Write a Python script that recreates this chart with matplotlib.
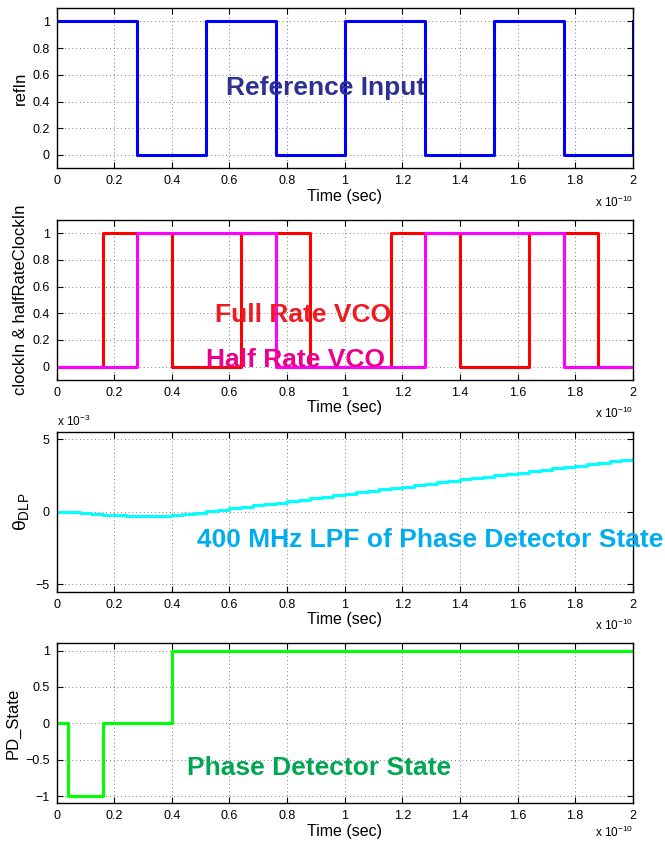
import matplotlib
matplotlib.use("Agg")
import matplotlib.pyplot as plt
from matplotlib.ticker import FixedLocator, FuncFormatter

plt.rcParams['font.family'] = ['Liberation Sans', 'DejaVu Sans']
plt.rcParams['mathtext.fontset'] = 'custom'
plt.rcParams['mathtext.rm'] = 'Liberation Sans'
plt.rcParams['mathtext.it'] = 'Liberation Sans'
plt.rcParams['mathtext.bf'] = 'Liberation Sans:bold'

# ---- data (time in units of 1e-10 s) ----
ref_t = [0, 0.28, 0.52, 0.76, 1.00, 1.28, 1.52, 1.76, 2.00]
ref_v = [1, 0, 1, 0, 1, 0, 1, 0, 1]

full_t = [0, 0.16, 0.40, 0.64, 0.88, 1.16, 1.40, 1.64, 1.88, 2.00]
full_v = [0, 1, 0, 1, 0, 1, 0, 1, 0, 0]

half_t = [0, 0.28, 0.76, 1.28, 1.76, 2.00]
half_v = [0, 1, 0, 1, 0, 0]

lpf_t = [0.00, 0.04, 0.08, 0.12, 0.16, 0.20, 0.24, 0.28, 0.32, 0.36,
         0.40, 0.44, 0.48, 0.52, 0.56, 0.60, 0.64, 0.68, 0.72, 0.76,
         0.80, 0.84, 0.88, 0.92, 0.96, 1.00, 1.04, 1.08, 1.12, 1.16,
         1.20, 1.24, 1.28, 1.32, 1.36, 1.40, 1.44, 1.48, 1.52, 1.56,
         1.60, 1.64, 1.68, 1.72, 1.76, 1.80, 1.84, 1.88, 1.92, 1.96, 2.00]
# units of 1e-3
lpf_v = [0.00, -0.01, -0.06, -0.13, -0.20, -0.24, -0.26, -0.27, -0.27, -0.26,
         -0.25, -0.16, -0.06, 0.04, 0.14, 0.24, 0.34, 0.44, 0.54, 0.64,
         0.74, 0.84, 0.94, 1.04, 1.14, 1.24, 1.34, 1.44, 1.54, 1.64,
         1.74, 1.84, 1.94, 2.04, 2.13, 2.23, 2.33, 2.42, 2.52, 2.62,
         2.71, 2.81, 2.90, 3.00, 3.09, 3.19, 3.28, 3.38, 3.47, 3.57, 3.66]

pd_t = [0, 0.04, 0.16, 0.40, 2.00]
pd_v = [0, -1, 0, 1, 1]

xticks = [0, 0.2, 0.4, 0.6, 0.8, 1.0, 1.2, 1.4, 1.6, 1.8, 2.0]
yticks_01 = [0, 0.2, 0.4, 0.6, 0.8, 1.0]
yticks_lpf = [-5, 0, 5]
yticks_pd = [-1, -0.5, 0, 0.5, 1]

W, H = 665, 842
fig = plt.figure(figsize=(W / 100, H / 100), dpi=100)

def ax_at(top_px, bot_px, left_px=56.7, right_px=632.7):
    return fig.add_axes([left_px / W, 1 - bot_px / H,
                         (right_px - left_px) / W, (bot_px - top_px) / H])

def fmt(v, pos):
    s = ('%g' % v)
    return s.replace('-', '\u2212')

def style(ax, yt, ylim, ylabel, exp_y=-0.21):
    ax.set_xlim(0, 2)
    ax.set_ylim(*ylim)
    ax.xaxis.set_major_locator(FixedLocator(xticks))
    ax.yaxis.set_major_locator(FixedLocator(yt))
    ax.xaxis.set_major_formatter(FuncFormatter(fmt))
    ax.yaxis.set_major_formatter(FuncFormatter(fmt))
    ax.tick_params(direction='in', length=4, width=0.8, top=True, right=True,
                   labelsize=9, pad=5, colors='black')
    ax.grid(True, color='#555555', linestyle=(0, (1, 3.5)), linewidth=0.6)
    for sp in ax.spines.values():
        sp.set_linewidth(1.0)
    ax.set_xlabel('Time (sec)', fontsize=11.5, labelpad=1)
    ax.set_ylabel(ylabel, fontsize=12, labelpad=3)
    ax.text(1.0, exp_y, 'x 10$^{\\mathregular{-10}}$', transform=ax.transAxes,
            ha='right', va='center', fontsize=8.5)

lw = 2.2

ax1 = ax_at(8, 168.3)
ax1.plot(ref_t, ref_v, color='#0000ff', lw=lw, drawstyle='steps-post')
style(ax1, yticks_01, (-0.1, 1.1), 'refIn')
ax1.text(0.934, 0.5, 'Reference Input', color='#2e3192', fontsize=19,
         fontweight='bold', ha='center', va='center')

ax2 = ax_at(220, 380)
ax2.plot(full_t, full_v, color='#ff0000', lw=lw, drawstyle='steps-post')
ax2.plot(half_t, half_v, color='#ff00ff', lw=lw, drawstyle='steps-post')
style(ax2, yticks_01, (-0.1, 1.1), 'clockIn & halfRateClockIn')
ax2.text(0.856, 0.39, 'Full Rate VCO', color='#ed1c24', fontsize=19,
         fontweight='bold', ha='center', va='center')
ax2.text(0.83, 0.05, 'Half Rate VCO', color='#ec008c', fontsize=19,
         fontweight='bold', ha='center', va='center')

ax3 = ax_at(432, 591.7)
ax3.plot(lpf_t, lpf_v, color='#00ffff', lw=lw, drawstyle='steps-post')
style(ax3, yticks_lpf, (-5.5, 5.5), r'$\theta_{\mathregular{DLP}}$')
ax3.yaxis.label.set_size(14)
ax3.text(0.0, 1.02, 'x 10$^{\\mathregular{-3}}$', transform=ax3.transAxes,
         ha='left', va='bottom', fontsize=8.5)
ax3.text(0.487, -1.94, '400 MHz LPF of Phase Detector State', color='#00aeef',
         fontsize=19, fontweight='bold', ha='left', va='center')

ax4 = ax_at(643.3, 803.3)
ax4.plot(pd_t, pd_v, color='#00ff00', lw=lw, drawstyle='steps-post')
style(ax4, yticks_pd, (-1.1, 1.1), 'PD_State', exp_y=-0.185)
ax4.text(0.911, -0.61, 'Phase Detector State', color='#00a651', fontsize=19,
         fontweight='bold', ha='center', va='center')

fig.savefig('out.png', dpi=100)
